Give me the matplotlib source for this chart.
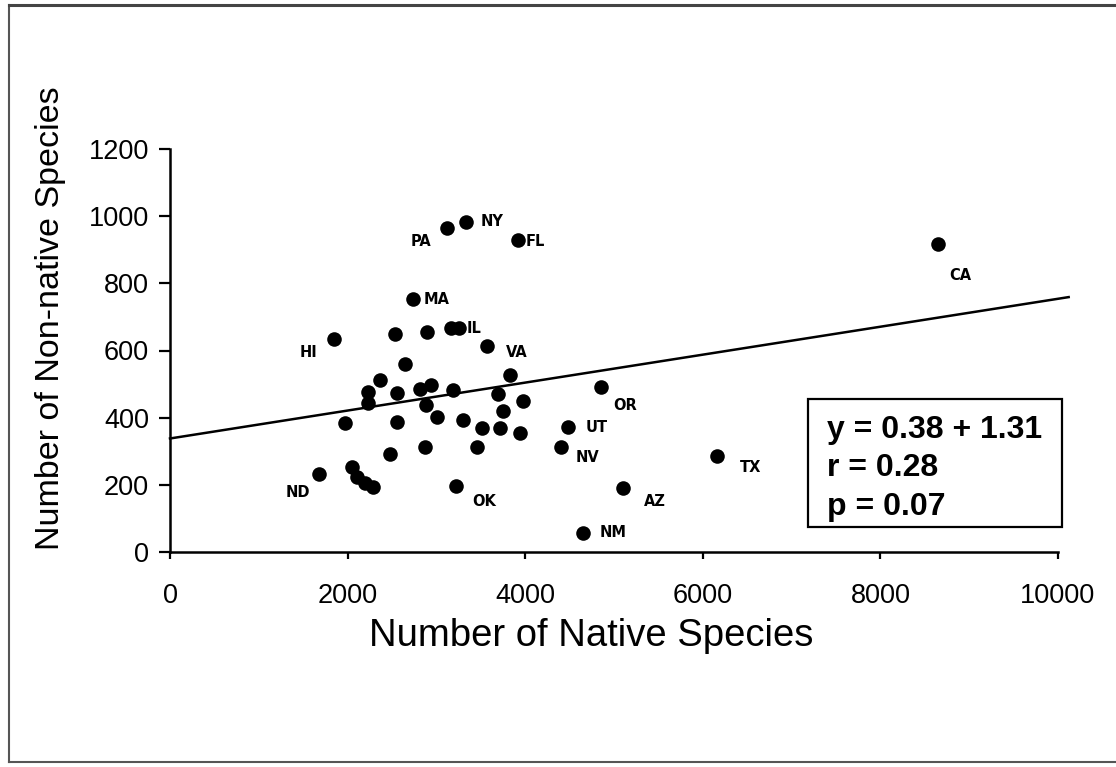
import matplotlib
matplotlib.use("Agg")
import matplotlib.pyplot as plt
from matplotlib import font_manager
from matplotlib.lines import Line2D
from matplotlib.patches import Rectangle

# ---- data ----
native = [3333, 3119, 3919, 2736, 3254, 3164, 1847, 3570, 2534, 2894,
          2646, 3829, 2365, 2230, 2230, 2556, 2815, 2939, 3187, 3694,
          3975, 2883, 3750, 1971, 2556, 3007, 3300, 3514, 3716, 3941,
          4482, 4403, 2872, 3457, 2477, 2050, 1678, 2106, 2196, 2286,
          3221, 4651, 4854, 8649, 6160, 5101]
nonnative = [983, 965, 929, 753, 667, 667, 634, 613, 649, 655,
             560, 527, 512, 476, 444, 473, 485, 497, 482, 471,
             450, 438, 420, 384, 387, 402, 393, 369, 369, 354,
             372, 313, 313, 313, 292, 253, 232, 223, 205, 194,
             197, 57, 491, 917, 286, 191]
states = ["NY", "PA", "FL", "MA", "IL", "", "HI", "VA", "", "",
          "", "", "", "", "", "", "", "", "", "",
          "", "", "", "", "", "", "", "", "", "",
          "UT", "NV", "", "", "", "", "ND", "", "", "",
          "OK", "NM", "OR", "CA", "TX", "AZ"]
fit_x = [0, 10120]
fit_y = [338, 759]
x_ticks = [0, 2000, 4000, 6000, 8000, 10000]
y_ticks = [0, 200, 400, 600, 800, 1000, 1200]
stats_lines = ["y = 0.38 + 1.31", "r = 0.28", "p = 0.07"]
x_label = "Number of Native Species"
y_label = "Number of Non-native Species"

# label offsets (pixels: dx right, dy down) and horizontal alignment
label_off = {
    "NY": (15, 0, "left"), "PA": (-26, 14, "center"), "FL": (8, 1, "left"),
    "MA": (11, 0, "left"), "IL": (8, 1, "left"), "HI": (-26, 13, "center"),
    "VA": (30, 6, "center"), "OR": (24, 18, "center"), "UT": (18, 0, "left"),
    "NV": (27, 11, "center"), "TX": (34, 12, "center"), "AZ": (32, 14, "center"),
    "NM": (30, 0, "center"), "CA": (22, 31, "center"), "ND": (-21, 18, "center"),
    "OK": (28, 16, "center"),
}

names = {f.name for f in font_manager.fontManager.ttflist}
base = "Liberation Sans" if "Liberation Sans" in names else "DejaVu Sans"

W, H = 1116, 767
fig = plt.figure(figsize=(W / 100, H / 100), dpi=100)
fig.patch.set_facecolor("white")

def fx(px):
    return px / W

def fy(py):
    return 1 - py / H

ax = fig.add_axes([fx(170), fy(552), fx(1058) - fx(170), fy(149) - fy(552)])
ax.set_xlim(0, 10000)
ax.set_ylim(0, 1200)
for s in ["top", "right"]:
    ax.spines[s].set_visible(False)
for s in ["left", "bottom"]:
    ax.spines[s].set_linewidth(1.8)
    ax.spines[s].set_color("black")
ax.set_xticks(x_ticks)
ax.set_yticks(y_ticks)
ax.set_xticklabels([str(v) for v in x_ticks], fontfamily=base, fontsize=19.5)
ax.set_yticklabels([str(v) for v in y_ticks], fontfamily=base, fontsize=19.5)
ax.tick_params(axis="x", direction="out", length=5, width=1.6, pad=17)
ax.tick_params(axis="y", direction="out", length=8, width=1.6, pad=7)

ax.plot(fit_x, fit_y, color="black", lw=1.8, clip_on=False, zorder=2)
ax.scatter(native, nonnative, s=110, color="black", zorder=3, clip_on=False,
           linewidths=0)

for xv, yv, st in zip(native, nonnative, states):
    if not st:
        continue
    dx, dy, ha = label_off[st]
    ax.annotate(st, (xv, yv), xytext=(dx * 0.72, -dy * 0.72),
                textcoords="offset points", ha=ha, va="center",
                fontsize=10.5, fontweight="bold", fontfamily="DejaVu Sans",
                color="black")

# overlay in pixel coordinates for box, labels and page frame
ov = fig.add_axes([0, 0, 1, 1], facecolor="none")
ov.set_xlim(0, W)
ov.set_ylim(H, 0)
ov.axis("off")
ov.add_patch(Rectangle((808, 399), 1062 - 808, 527 - 399, fill=False,
                       lw=1.6, edgecolor="black"))
for i, line in enumerate(stats_lines):
    ov.text(827, 438 + i * 38.5, line, ha="left", va="baseline",
            fontsize=23, fontfamily=base, fontweight="bold", color="black")

ov.text((367 + 815) / 2, 636, x_label, ha="center", va="center",
        fontsize=27.5, fontfamily=base, color="black")
ov.text(51, 318, y_label, ha="center", va="center", rotation=90,
        fontsize=24.5, fontfamily=base, color="black")

ov.add_line(Line2D([9, 9], [5, 762], color="#555555", lw=1.5))
ov.add_line(Line2D([9, 1116], [5, 5], color="#444444", lw=2.2))
ov.add_line(Line2D([9, 1116], [762, 762], color="#555555", lw=1.5))

fig.savefig("out.png", dpi=100)
